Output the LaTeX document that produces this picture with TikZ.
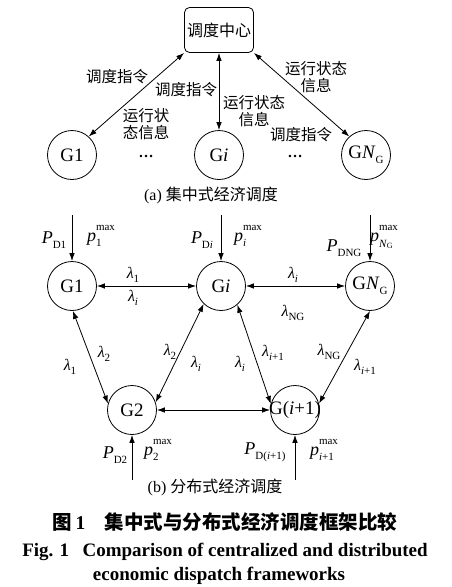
\documentclass[tikz,border=0pt]{standalone}
\usepackage{fontspec}
\setmainfont{Liberation Serif}
\newfontfamily\cjk{Noto Sans CJK SC}
\usetikzlibrary{arrows.meta}
\newcommand{\mysub}[1]{\raisebox{-0.28em}{\fontsize{11}{11}\selectfont #1}}
\newcommand{\mysupsub}[2]{\setbox0\hbox{\fontsize{11}{11}\selectfont #1}\setbox2\hbox{\fontsize{11}{11}\selectfont #2}\raisebox{0.62em}{\copy0}\kern-\wd0\raisebox{-0.3em}{\copy2}\ifdim\wd0>\wd2\kern\dimexpr\wd0-\wd2\relax\fi}
\begin{document}
\begin{tikzpicture}[x=1pt,y=-1pt,
  gen/.style={circle,draw,line width=0.8pt,minimum size=49pt,inner sep=0pt,font=\fontsize{19}{19}\selectfont},
  conn/.style={line width=0.8pt,{Latex[length=8pt,width=5.5pt]}-{Latex[length=8pt,width=5.5pt]}},
  inarr/.style={line width=0.8pt,-{Latex[length=8pt,width=5.5pt]}},
  zh/.style={font=\cjk\fontsize{15.5}{17.5}\selectfont,align=center,inner sep=0pt},
  lam/.style={font=\fontsize{16}{16}\selectfont,inner sep=0pt},
  pl/.style={font=\fontsize{18}{18}\selectfont,inner sep=0pt},
  dots/.style={font=\fontsize{15}{15}\selectfont\bfseries,inner sep=0pt}]
\useasboundingbox (0,0) rectangle (452,587);
% ---- (a) centralized
\node[draw,rounded corners=5pt,line width=0.8pt,minimum width=69pt,minimum height=45pt,inner sep=0pt,font=\cjk\fontsize{16}{16}\selectfont] (C) at (219,30) {调度中心};
\node[gen] (A1) at (72,155) {G1};
\node[gen] (Ai) at (219,155) {G\textit{i}};
\node[gen] (An) at (366,155) {G\textit{N}\mysub{G}};
\node[dots] (d1) at (146,156) {…};
\node[dots] (d2) at (295,156) {…};
\draw[conn] (C.south west) -- (A1.48);
\draw[conn] (C.south) -- (Ai.north);
\draw[conn] (C.south east) -- (An.132);
\node[zh] (l1) at (117,77) {调度指令};
\node[zh] (l2) at (186,90) {调度指令};
\node[zh] (l3) at (146,124) {运行状\\态信息};
\node[zh] (l4) at (254,111) {运行状态\\信息};
\node[zh] (l5) at (301,135) {调度指令};
\node[zh] (l6) at (316,77) {运行状态\\信息};
\node[font=\fontsize{16}{16}\selectfont,inner sep=0pt] (capa) at (211,195) {(a) {\cjk 集中式经济调度}};
% ---- (b) distributed
\node[gen] (B1) at (72,286) {G1};
\node[gen] (Bi) at (221,286) {G\textit{i}};
\node[gen] (Bn) at (370,286) {G\textit{N}\mysub{G}};
\node[gen] (B2) at (132,410) {G2};
\node[gen] (Bj) at (295,410) {\makebox[0pt]{G(\textit{i}+1)}};
\coordinate (t1) at (72,215);
\coordinate (ti) at (221,215);
\coordinate (tn) at (370,215);
\coordinate (b2) at (132,480);
\coordinate (bj) at (295,480);
\draw[inarr] (t1) -- (B1);
\draw[inarr] (ti) -- (Bi);
\draw[inarr] (tn) -- (Bn);
\draw[inarr] (b2) -- (B2);
\draw[inarr] (bj) -- (Bj);
\draw[conn] (B1) -- (Bi);
\draw[conn] (Bi) -- (Bn);
\draw[conn] (B2) -- (Bj);
\draw[conn] (B1.-88) -- (B2.165);
\draw[conn] (Bi.-134) -- (B2.18);
\draw[conn] (Bi.-49) -- (Bj.166);
\draw[conn] (Bn.-90) -- (Bj.15);
\node[pl] (pd1) at (54,240) {\textit{P}\mysub{D1}};
\node[pl] (pm1) at (101,236) {\textit{p}\mysupsub{max}{1}};
\node[pl] (pdi) at (202,240) {\textit{P}\mysub{D\textit{i}}};
\node[pl] (pmi) at (248,236) {\textit{p}\mysupsub{max}{\textit{i}}};
\node[pl] (pdn) at (344,248) {\textit{P}\mysub{DNG}};
\node[pl] (pmn) at (384,237) {\textit{p}\mysupsub{max}{\textit{N}\raisebox{-0.15em}{\fontsize{8}{8}\selectfont G}}};
\node[lam] (k1) at (133,275) {\textit{λ}\mysub{1}};
\node[lam] (k2) at (133,298) {\textit{λ}\mysub{\textit{i}}};
\node[lam] (k3) at (293,275) {\textit{λ}\mysub{\textit{i}}};
\node[lam] (k4) at (293,313) {\textit{λ}\mysub{NG}};
\node[lam] (k5) at (70,367) {\textit{λ}\mysub{1}};
\node[lam] (k6) at (104,354) {\textit{λ}\mysub{2}};
\node[lam] (k7) at (170,352) {\textit{λ}\mysub{2}};
\node[lam] (k8) at (196,364) {\textit{λ}\mysub{\textit{i}}};
\node[lam] (k9) at (240,364) {\textit{λ}\mysub{\textit{i}}};
\node[lam] (k10) at (273,353) {\textit{λ}\mysub{\textit{i}+1}};
\node[lam] (k11) at (329,352) {\textit{λ}\mysub{NG}};
\node[lam] (k12) at (365,367) {\textit{λ}\mysub{\textit{i}+1}};
\node[pl] (pd2) at (115,455) {\textit{P}\mysub{D2}};
\node[pl] (pm2) at (158,450) {\textit{p}\mysupsub{max}{2}};
\node[pl] (pdj) at (265,452) {\textit{P}\mysub{D(\textit{i}+1)}};
\node[pl] (pmj) at (324,450) {\textit{p}\mysupsub{max}{\textit{i}+1}};
\node[font=\fontsize{16}{16}\selectfont,inner sep=0pt] (capb) at (215,487) {(b) {\cjk 分布式经济调度}};
% ---- caption
\node[font=\fontsize{19.5}{20}\selectfont\bfseries,inner sep=0pt] (cap1) at (225,522) {{\cjk 图}\,1\quad{\cjk 集中式与分布式经济调度框架比较}};
\node[font=\fontsize{19}{20}\selectfont\bfseries,inner sep=0pt] (cap2) at (225,552) {Fig. 1\hspace{0.7em}Comparison of centralized and distributed};
\node[font=\fontsize{19}{20}\selectfont\bfseries,inner sep=0pt] (cap3) at (219,576) {economic dispatch frameworks};
\end{tikzpicture}
\end{document}
